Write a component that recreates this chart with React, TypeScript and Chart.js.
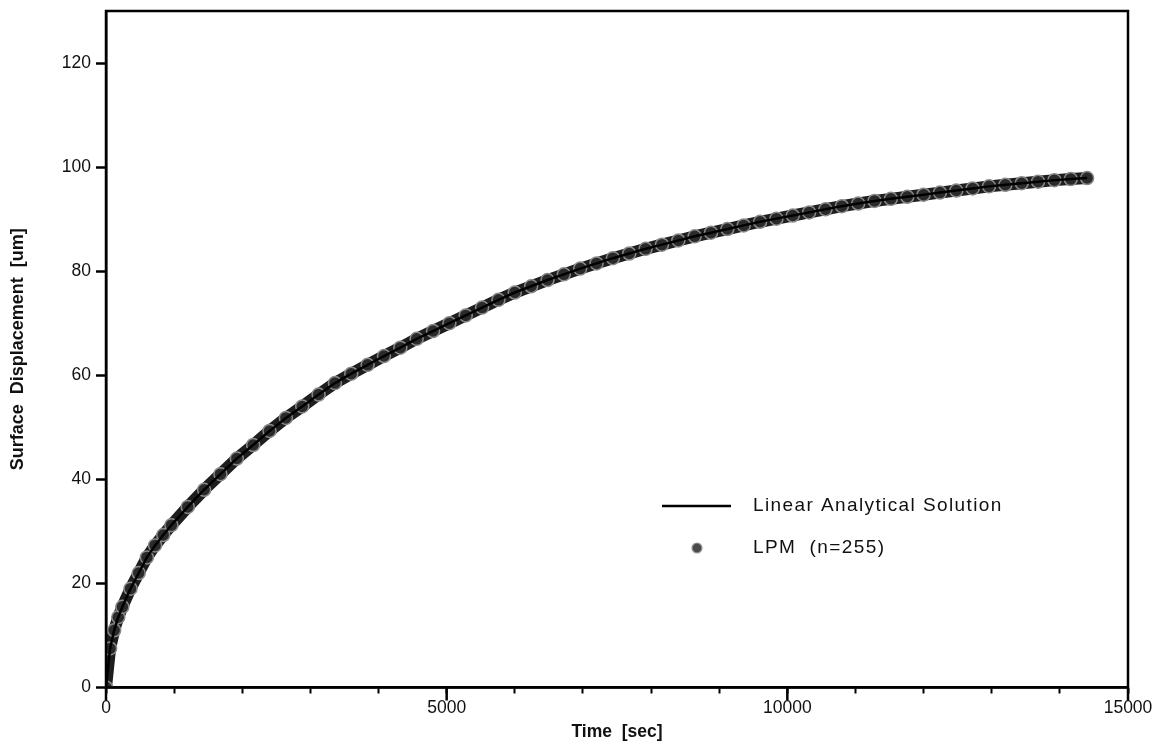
import { useEffect, useRef } from 'react';
import { Chart, registerables } from 'chart.js';

Chart.register(...registerables);

// ---- data ----
const timeSec = [
  0, 60, 120, 180, 240, 360, 480, 600, 720, 840, 960, 1200, 1440, 1680, 1920, 2160,
  2400, 2640, 2880, 3120, 3360, 3600, 3840, 4080, 4320, 4560, 4800, 5040, 5280, 5520,
  5760, 6000, 6240, 6480, 6720, 6960, 7200, 7440, 7680, 7920, 8160, 8400, 8640, 8880,
  9120, 9360, 9600, 9840, 10080, 10320, 10560, 10800, 11040, 11280, 11520, 11760, 12000,
  12240, 12480, 12720, 12960, 13200, 13440, 13680, 13920, 14160, 14400,
];

const analyticalUm = [
  0, 7.5, 11, 13.5, 15.5, 19, 22, 25, 27.3, 29.3, 31.2, 34.7, 38, 41, 44, 46.6,
  49.3, 51.8, 54, 56.3, 58.5, 60.3, 62, 63.7, 65.3, 67, 68.5, 70, 71.5, 73,
  74.5, 75.9, 77.1, 78.3, 79.4, 80.5, 81.5, 82.5, 83.4, 84.3, 85.1, 85.9, 86.7, 87.4,
  88.1, 88.8, 89.5, 90.1, 90.7, 91.3, 91.9, 92.5, 93.0, 93.5, 93.9, 94.3, 94.7,
  95.1, 95.5, 95.9, 96.3, 96.6, 96.9, 97.2, 97.5, 97.7, 97.9,
];

const lpmUm = [
  0, 7.5, 11, 13.5, 15.5, 19, 22, 25, 27.3, 29.3, 31.2, 34.7, 38, 41, 44, 46.6,
  49.3, 51.8, 54, 56.3, 58.5, 60.3, 62, 63.7, 65.3, 67, 68.5, 70, 71.5, 73,
  74.5, 75.9, 77.1, 78.3, 79.4, 80.5, 81.5, 82.5, 83.4, 84.3, 85.1, 85.9, 86.7, 87.4,
  88.1, 88.8, 89.5, 90.1, 90.7, 91.3, 91.9, 92.5, 93.0, 93.5, 93.9, 94.3, 94.7,
  95.1, 95.5, 95.9, 96.3, 96.6, 96.9, 97.2, 97.5, 97.7, 97.9,
];

const seriesLabels = ['Linear Analytical Solution', 'LPM  (n=255)'];
const xTitle = 'Time  [sec]';
const yTitle = 'Surface  Displacement  [um]';
const xRange = [0, 15000];
const xTickStep = 1000;
const xLabelEvery = 5000;
const yRange = [0, 130];
const yTickStep = 20;

const FONT = '"Liberation Sans", Arial, Helvetica, sans-serif';

const framePlugin = {
  id: 'frameAndLegend',
  afterDraw(chart: any) {
    const { ctx, chartArea, scales } = chart;
    ctx.save();
    // frame
    ctx.strokeStyle = '#000';
    ctx.lineWidth = 2.5;
    ctx.strokeRect(chartArea.left, chartArea.top, chartArea.right - chartArea.left, chartArea.bottom - chartArea.top);
    // longer major x ticks
    for (let v = xRange[0]; v <= xRange[1]; v += xLabelEvery) {
      const px = scales.x.getPixelForValue(v);
      ctx.beginPath();
      ctx.moveTo(px, chartArea.bottom);
      ctx.lineTo(px, chartArea.bottom + 13);
      ctx.stroke();
    }
    // legend inside plot
    const ds = chart.data.datasets;
    ctx.font = `19px ${FONT}`;
    (ctx as any).letterSpacing = '1.4px';
    ctx.textBaseline = 'middle';
    ctx.textAlign = 'left';
    ctx.strokeStyle = '#000';
    ctx.lineWidth = 2.5;
    ctx.beginPath();
    ctx.moveTo(662, 506);
    ctx.lineTo(731, 506);
    ctx.stroke();
    ctx.fillStyle = '#111';
    ctx.fillText(ds[0].label, 753, 506);
    ctx.beginPath();
    ctx.arc(697, 548, 5, 0, Math.PI * 2);
    ctx.fillStyle = '#4a4a4a';
    ctx.fill();
    ctx.strokeStyle = '#999';
    ctx.lineWidth = 1.2;
    ctx.stroke();
    ctx.fillStyle = '#111';
    ctx.fillText(ds[1].label, 753, 548);
    ctx.restore();
  },
};

export default function App() {
  const ref = useRef<HTMLCanvasElement>(null);

  useEffect(() => {
    document.body.style.margin = '0';
    const canvas = ref.current;
    if (!canvas) return;
    const chart = new Chart(canvas, {
      type: 'scatter',
      data: {
        datasets: [
          {
            label: seriesLabels[0],
            data: timeSec.map((t, i) => ({ x: t, y: analyticalUm[i] })),
            showLine: true,
            borderColor: '#000',
            borderWidth: 2.5,
            pointRadius: 0,
            order: 0,
          },
          {
            label: seriesLabels[1],
            data: timeSec.map((t, i) => ({ x: t, y: lpmUm[i] })),
            showLine: true,
            borderColor: '#1e1e1e',
            borderWidth: 12,
            pointRadius: 6.5,
            pointBackgroundColor: '#2a2a2a',
            pointBorderColor: '#8a8a8a',
            pointBorderWidth: 1.5,
            order: 1,
          },
        ],
      },
      options: {
        animation: false,
        responsive: false,
        devicePixelRatio: 1,
        layout: { padding: { left: 0, right: 33, top: 11, bottom: 0 } },
        plugins: { legend: { display: false }, tooltip: { enabled: false } },
        scales: {
          x: {
            type: 'linear',
            min: xRange[0],
            max: xRange[1],
            afterFit: (s: any) => { s.height = 58.5; },
            ticks: {
              stepSize: xTickStep,
              autoSkip: false,
              maxRotation: 0,
              padding: 4,
              color: '#111',
              font: { family: FONT, size: 17.5 },
              callback: (v: any) => (Number(v) % xLabelEvery === 0 ? String(v) : ''),
            },
            grid: { drawOnChartArea: false, drawTicks: true, tickLength: 6, tickWidth: 2, tickColor: '#000' },
            border: { display: true, width: 2.5, color: '#000' },
            title: {
              display: true,
              text: xTitle,
              color: '#111',
              font: { family: FONT, size: 17.5, weight: 'bold' },
              padding: { top: 0, bottom: 3 },
            },
          },
          y: {
            type: 'linear',
            min: yRange[0],
            max: yRange[1],
            afterFit: (s: any) => { s.width = 106; s.paddingTop = 0; s.paddingBottom = 0; },
            afterBuildTicks: (s: any) => {
              s.ticks = s.ticks.filter((t: any) => t.value % yTickStep === 0);
            },
            ticks: {
              stepSize: yTickStep,
              padding: 5,
              color: '#111',
              font: { family: FONT, size: 17.5 },
            },
            grid: { drawOnChartArea: false, drawTicks: true, tickLength: 10, tickWidth: 2.5, tickColor: '#000' },
            border: { display: true, width: 2.5, color: '#000' },
            title: {
              display: true,
              text: yTitle,
              color: '#111',
              font: { family: FONT, size: 18, weight: 'bold' },
              padding: { top: 7, bottom: 0 },
            },
          },
        },
      },
      plugins: [framePlugin],
    });
    return () => chart.destroy();
  }, []);

  return (
    <div style={{ width: 1161, height: 746, background: '#fff' }}>
      <canvas ref={ref} width={1161} height={746} />
    </div>
  );
}
